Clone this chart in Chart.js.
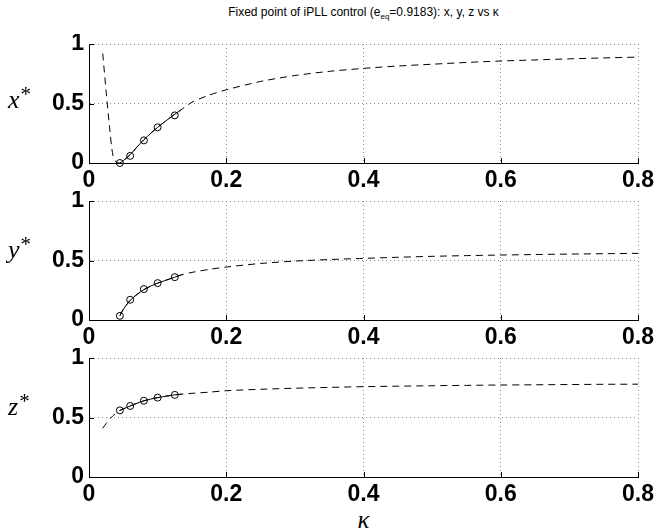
<!DOCTYPE html>
<html lang="en">
<head>
<meta charset="UTF-8">
<title>Fixed point of iPLL control</title>
<script src="https://cdn.jsdelivr.net/npm/chart.js"></script>
<style>
  body { margin: 0; background: #fff; }
  #wrap { position: relative; width: 656px; height: 532px; font-family: "Liberation Sans", Arial, sans-serif; color: #000; }
  #wrap canvas { position: absolute; left: 0; }
  .title { position: absolute; left: 89px; width: 549px; top: 5px; text-align: center; font-size: 12px; white-space: nowrap; }
  .title sub { font-size: 8px; }
  .ylab { position: absolute; left: 8px; font-family: "Liberation Serif", serif; font-style: italic; font-size: 26px; line-height: 26px; }
  .ylab sup { font-style: normal; font-size: 21px; vertical-align: 7px; line-height: 0; margin-left: 1px; }
  .xlab { position: absolute; left: 89px; width: 549px; top: 506px; text-align: center; font-family: "Liberation Serif", serif; font-style: italic; font-size: 25px; }
</style>
</head>
<body>
<div id="wrap">
  <div class="title">Fixed point of iPLL control (e<sub>eq</sub>=0.9183): x, y, z vs κ</div>
  <canvas id="cx" width="656" height="157" style="top:34px"></canvas>
  <canvas id="cy" width="656" height="157" style="top:191px"></canvas>
  <canvas id="cz" width="656" height="157" style="top:348px"></canvas>
  <div class="ylab" style="top:87px">x<sup>*</sup></div>
  <div class="ylab" style="top:237px">y<sup>*</sup></div>
  <div class="ylab" style="top:394px">z<sup>*</sup></div>
  <div class="xlab">κ</div>
</div>
<script>
// kappa grid of the fixed-point curves
const kappa = [0.02, 0.025, 0.03, 0.035, 0.04, 0.045, 0.05, 0.06, 0.07, 0.08, 0.09, 0.1, 0.11, 0.125, 0.135,
               0.15, 0.175, 0.2, 0.25, 0.3, 0.35, 0.4, 0.45, 0.5, 0.55, 0.6, 0.65, 0.7, 0.75, 0.8];
const xStar = [0.92, 0.60, 0.30, 0.06, 0.005, 0.0, 0.02, 0.07, 0.135, 0.195, 0.25, 0.30, 0.345, 0.41, 0.45,
               0.51, 0.57, 0.615, 0.685, 0.735, 0.77, 0.795, 0.815, 0.83, 0.845, 0.857, 0.866, 0.875, 0.883, 0.89];
const yStar = [null, null, null, null, null, 0.035, 0.09, 0.165, 0.215, 0.255, 0.285, 0.31, 0.33, 0.36, 0.38,
               0.40, 0.425, 0.445, 0.475, 0.495, 0.508, 0.518, 0.527, 0.535, 0.541, 0.546, 0.55, 0.554, 0.557, 0.56];
const zStar = [0.41, 0.45, 0.485, 0.515, 0.54, 0.56, 0.572, 0.597, 0.62, 0.64, 0.655, 0.667, 0.677, 0.69, 0.696,
               0.703, 0.713, 0.725, 0.737, 0.746, 0.753, 0.759, 0.763, 0.767, 0.77, 0.773, 0.775, 0.777, 0.779, 0.78];

// simulated points (circles)
const kappaSim = [0.045, 0.06, 0.08, 0.1, 0.125];
const xSim = [0.0, 0.06, 0.19, 0.30, 0.40];
const ySim = [0.035, 0.17, 0.26, 0.31, 0.36];
const zSim = [0.56, 0.597, 0.641, 0.667, 0.69];

// part of the curve drawn solid
const solidRange = [0.045, 0.135];

const xTicks = [0, 0.2, 0.4, 0.6, 0.8];
const yTicks = [0, 0.5, 1];

const tickFont = { family: '"Liberation Sans", Arial, sans-serif', size: 23, weight: 'bold', lineHeight: 1 };

function pts(xs, ys) {
    return xs.map((k, i) => ({ x: k, y: ys[i] })).filter(p => p.y !== null);
}

// MATLAB style ticks pointing into the axes
const inTicks = {
    id: 'inTicks',
    afterDatasetsDraw(chart) {
        const { ctx, chartArea: a, scales: { x, y } } = chart;
        ctx.save();
        ctx.strokeStyle = '#000';
        ctx.lineWidth = 1;
        ctx.beginPath();
        xTicks.forEach(v => {
            if (v === 0) return;
            const px = Math.round(x.getPixelForValue(v)) + 0.5;
            ctx.moveTo(px, a.bottom);
            ctx.lineTo(px, a.bottom - 5);
        });
        yTicks.forEach(v => {
            if (v === 0) return;
            const py = Math.round(y.getPixelForValue(v)) + 0.5;
            ctx.moveTo(a.left, py);
            ctx.lineTo(a.left + 5, py);
        });
        ctx.stroke();
        ctx.restore();
    }
};

function makeChart(id, curve, sim) {
    const all = pts(kappa, curve);
    const solid = all.filter(p => p.x >= solidRange[0] && p.x <= solidRange[1]);
    new Chart(document.getElementById(id).getContext('2d'), {
        type: 'scatter',
        data: {
            datasets: [
                {
                    data: pts(kappaSim, sim),
                    showLine: false,
                    pointRadius: 3.5,
                    pointBorderWidth: 1,
                    pointBorderColor: '#000',
                    pointBackgroundColor: 'rgba(0,0,0,0)',
                    clip: false
                },
                {
                    data: solid,
                    showLine: true,
                    borderColor: '#000',
                    borderWidth: 1,
                    pointRadius: 0,
                    tension: 0.3
                },
                {
                    data: all,
                    showLine: true,
                    borderColor: '#000',
                    borderWidth: 1,
                    borderDash: [7, 5],
                    pointRadius: 0,
                    tension: 0.3
                }
            ]
        },
        options: {
            responsive: false,
            animation: false,
            devicePixelRatio: 1,
            layout: { padding: { top: 10, right: 18, left: 0, bottom: 0 } },
            plugins: { legend: { display: false }, tooltip: { enabled: false } },
            scales: {
                x: {
                    type: 'linear',
                    min: 0,
                    max: 0.8,
                    afterBuildTicks: s => { s.ticks = xTicks.map(v => ({ value: v })); },
                    afterFit: s => { s.height = 28; s.paddingLeft = 0; s.paddingRight = 0; },
                    ticks: { font: tickFont, color: '#000', padding: 6, maxRotation: 0, autoSkip: false,
                             callback: v => String(v) },
                    grid: { color: '#8c8c8c', lineWidth: 1, drawTicks: false },
                    border: { color: '#000', width: 1, dash: [1, 3] }
                },
                y: {
                    type: 'linear',
                    min: 0,
                    max: 1,
                    afterBuildTicks: s => { s.ticks = yTicks.map(v => ({ value: v })); },
                    afterFit: s => { s.width = 89; s.paddingTop = 0; s.paddingBottom = 0; },
                    ticks: { font: tickFont, color: '#000', padding: 5, callback: v => String(v) },
                    grid: { color: '#8c8c8c', lineWidth: 1, drawTicks: false },
                    border: { color: '#000', width: 1, dash: [1, 3] }
                }
            }
        },
        plugins: [inTicks]
    });
}

makeChart('cx', xStar, xSim);
makeChart('cy', yStar, ySim);
makeChart('cz', zStar, zSim);
</script>
</body>
</html>
